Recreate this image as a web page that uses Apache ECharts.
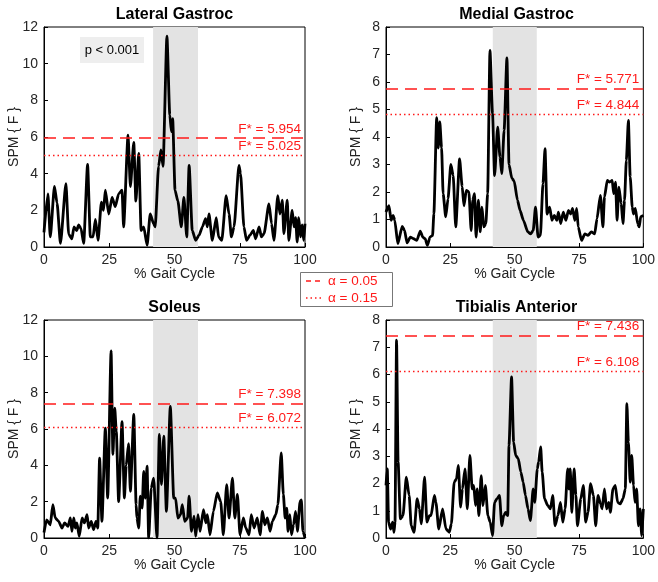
<!DOCTYPE html>
<html>
<head>
<meta charset="utf-8">
<script src="https://cdn.jsdelivr.net/npm/echarts@6/dist/echarts.min.js"></script>
<style>html,body{margin:0;padding:0;background:#fff;}#c{width:658px;height:582px;}</style>
</head>
<body>
<div id="c"></div>
<script>
// ---------- data ----------
const titles = ['Lateral Gastroc', 'Medial Gastroc', 'Soleus', 'Tibialis Anterior'];
const xTicks = [0, 25, 50, 75, 100];
const yMaxes = [12, 8, 12, 8];
const yIntervals = [2, 1, 2, 1];
const alphaLabels = ['α = 0.05', 'α = 0.15'];
const fCrit05 = [5.954, 5.771, 7.398, 7.436];
const fCrit15 = [5.025, 4.844, 6.072, 6.108];
const shadeStart = [41.8, 41.5, 41.8, 41.5];
const shadeEnd = [59.0, 58.6, 59.0, 58.6];
const pText = 'p < 0.001';

const lgX = [0,1.5,2.4,4.0,5.0,6.3,8.4,9.45,10.7,11.5,12.5,13.3,14.2,15.2,16.7,17.75,18.8,19.7,20.7,22.0,22.8,23.5,24.8,26.1,27.3,28.6,29.9,30.5,32.2,33.1,34.4,35.2,36.3,37.2,38.2,39.5,40.7,42.0,42.6,43.9,44.8,45.6,47.1,48.2,48.8,49.3,50.2,51.3,52.6,53.6,54.7,55.6,56.8,58.1,59.4,60.7,61.9,62.6,63.2,64.5,66.0,66.9,68.1,69.8,70.9,71.8,72.8,74.7,75.3,76.6,77.6,78.9,80.2,81.1,82.4,83.3,84.3,86.2,87.2,88.1,89.6,90.4,91.3,91.9,93.2,93.8,95.1,95.8,96.4,97.0,97.6,98.3,98.9,99.5,100];
const lgY = [0.8,2.9,0.55,3.3,2.4,0.2,3.45,0.7,0.45,1.1,0.9,1.2,1.0,0.2,4.5,0.55,0.55,1.5,0.36,2.45,2.0,3.1,1.8,2.7,2.2,2.9,3.1,1.1,6.1,3.3,5.7,2.5,5.1,0.9,1.1,0.1,1.8,1.27,1.1,4.4,5.3,4.4,11.5,7.2,6.3,7.0,3.1,2.5,1.1,2.7,0.55,4.45,0.9,0.36,0.64,1.1,1.55,1.1,1.8,0.36,1.6,0.55,0.36,2.8,1.8,0.55,1.1,4.45,4.0,1.1,0.36,0.64,0.9,0.45,1.1,0.55,0.73,2.35,1.27,0.36,2.8,1.8,2.55,0.73,2.55,0.36,2.0,1.1,1.6,0.27,1.6,0.55,1.2,0.36,1.27];

const mgX = [0,1.15,2.0,2.8,3.4,4.6,6.3,7.2,8.2,9.45,10.7,12.0,13.3,14.3,15.2,16.1,17.1,18.1,18.6,19.7,20.3,20.9,21.6,22.2,23.2,24.1,25.2,26.1,27.1,28.6,29.6,30.3,31.2,32.2,33.1,33.7,34.4,35.0,35.9,36.6,37.3,38.0,38.8,39.5,40.4,41.4,42.2,43.4,44.3,45.0,45.9,47.0,47.8,48.9,49.8,51.1,52.1,53.4,55.1,56.2,57.2,58.1,59.1,60.0,61.0,61.8,62.6,63.6,64.5,65.4,66.4,67.0,67.9,68.9,69.9,70.9,71.8,72.5,73.4,74.1,74.7,76.0,77.3,78.5,79.8,81.1,82.0,83.3,84.3,84.9,86.0,86.9,87.9,88.5,89.2,89.8,90.5,91.4,92.1,92.7,93.4,94.2,94.9,95.7,96.2,96.9,97.8,98.4,99.0,100];
const mgY = [1.27,1.5,0.97,1.15,0.97,0.12,0.75,0.6,0.15,0.36,0.3,0.24,0.58,0.36,0.3,0.06,0.36,0.42,1.2,4.7,3.6,4.55,3.6,1.94,1.1,1.75,3.0,2.6,0.73,3.2,2.2,1.5,2.06,2.0,0.6,1.7,1.94,0.36,1.7,0.55,1.45,0.73,0.85,1.94,7.15,4.85,2.6,4.36,3.27,2.67,4.24,6.88,3.0,2.5,2.4,1.7,1.33,0.97,0.55,0.48,0.6,1.45,0.36,0.42,2.3,3.58,1.2,1.45,0.97,1.15,0.97,1.27,0.85,1.27,0.97,1.33,1.2,1.4,0.97,1.4,0.73,0.24,0.48,0.42,0.55,0.48,1.03,1.88,0.73,1.82,2.42,2.36,2.42,1.94,2.36,0.97,2.18,1.58,0.85,1.7,3.15,4.6,2.55,1.45,1.2,1.4,0.85,0.73,1.1,1.15];

const soX = [0,1.0,2.4,3.4,4.3,5.6,6.9,7.9,9.2,10.1,10.7,11.4,12.0,12.6,13.5,14.6,15.5,16.5,17.1,18.1,19.0,19.9,20.6,21.3,22.2,23.5,24.4,25.7,26.4,27.1,27.7,28.6,29.9,30.8,31.5,32.4,33.1,34.4,35.3,35.6,36.3,36.9,37.6,38.2,38.8,39.5,40.1,41.1,42.0,43.3,44.2,45.0,45.9,46.9,48.4,49.7,50.4,51.3,52.3,53.0,53.9,55.0,55.6,56.5,57.5,58.1,59.0,59.8,61.1,62.0,62.6,63.6,64.9,66.4,67.7,68.7,70.0,70.9,72.2,73.1,74.1,75.1,76.4,77.3,78.6,79.4,80.5,81.7,82.8,83.7,84.6,85.6,86.6,87.5,88.8,89.6,90.9,91.7,92.4,93.0,93.5,94.2,94.8,95.6,96.4,97.1,98.1,98.6,99.2,100];
const soY = [0.3,1.0,0.73,1.83,1.1,0.92,0.55,0.83,0.64,1.1,0.37,1.1,0.55,0.83,0.09,1.1,0.83,1.28,0.55,0.92,0.46,0.92,0.55,4.4,0.92,6.05,2.2,10.3,4.6,7.15,5.87,2.0,6.4,2.2,4.0,5.2,2.57,6.8,1.83,1.1,0.55,2.3,1.65,3.67,2.2,3.95,0.0,2.75,3.3,0.0,5.7,2.94,5.6,1.47,7.25,2.2,2.2,1.1,1.28,1.83,0.92,1.1,2.3,0.37,1.2,0.09,1.28,0.37,1.56,0.83,1.28,0.18,1.47,2.48,2.0,0.18,2.94,1.1,3.3,1.1,2.4,0.18,1.1,0.55,0.18,1.28,0.55,1.1,0.18,1.47,0.73,1.1,0.37,0.92,1.28,1.83,4.68,2.4,1.1,1.65,0.37,1.28,0.18,0.73,1.47,0.37,2.0,2.1,0.37,0.0];

const taX = [0,0.5,1.0,1.8,2.6,3.1,3.5,4.1,4.7,5.6,6.6,7.9,9.0,9.8,10.9,12.1,13.0,13.7,15.0,15.9,16.9,17.5,18.8,19.4,20.5,22.0,23.3,24.6,25.4,26.5,27.4,28.1,29.0,29.7,30.7,31.6,32.6,33.5,34.1,34.8,35.4,36.1,37.0,37.7,38.6,39.6,40.5,41.4,42.2,43.1,44.1,45.0,45.7,46.5,47.3,47.8,48.8,49.6,50.4,51.4,52.4,53.3,54.2,55.2,56.1,57.2,57.8,58.8,59.3,60.1,60.7,61.6,62.9,63.9,64.8,65.7,66.8,67.8,68.7,69.6,70.6,71.1,71.6,72.2,73.1,73.8,74.4,75.7,76.7,77.6,78.5,79.5,80.6,81.5,82.4,83.4,84.0,84.9,85.7,86.6,87.2,88.2,89.1,90.0,91.0,92.1,93.0,93.6,94.2,94.9,95.5,96.2,96.8,97.4,98.1,98.7,99.4,100];
const taY = [1.93,2.54,0.58,0.33,0.58,0.21,0.58,7.26,2.79,0.7,0.82,2.23,1.56,0.45,0.21,1.44,1.07,0.52,2.23,0.58,0.82,0.82,1.56,1.31,0.33,1.07,0.33,0.21,0.52,2.05,2.17,2.66,1.13,1.8,2.54,1.07,3.03,1.8,1.93,1.19,1.8,0.82,2.29,1.19,1.93,0.82,0.58,0.09,1.31,1.44,1.56,0.45,0.82,0.94,0.82,3.4,5.91,3.52,3.03,2.91,2.42,2.05,1.56,1.07,0.64,1.8,1.31,2.54,2.79,3.34,2.42,1.44,1.19,1.07,1.56,0.45,0.82,1.31,0.58,1.07,2.54,1.8,2.54,0.94,2.54,1.56,0.45,1.44,1.93,0.58,0.94,1.99,1.56,0.45,1.56,1.25,1.07,1.8,1.07,1.31,0.94,1.8,1.93,1.31,1.25,1.44,1.8,4.93,3.52,2.05,3.03,1.93,1.31,1.8,0.45,1.07,0.09,1.07];

// ---------- layout ----------
const grids = [
  {left: 44, top: 27, width: 261, height: 220},
  {left: 386, top: 27, width: 261, height: 220},
  {left: 44, top: 320, width: 261, height: 218},
  {left: 386, top: 320, width: 261, height: 218}
];
const seriesX = [lgX, mgX, soX, taX];
const seriesY = [lgY, mgY, soY, taY];
const FONT = '"Liberation Sans", Arial, Helvetica, sans-serif';
const RED = '#ff1a1a';

const option = {
  animation: false,
  textStyle: {fontFamily: FONT},
  grid: grids.map(g => Object.assign({show: true, borderColor: '#000', borderWidth: 1, backgroundColor: 'transparent'}, g)),
  xAxis: grids.map((g, i) => ({
    type: 'value', gridIndex: i, min: xTicks[0], max: xTicks[xTicks.length - 1], interval: 25,
    name: '% Gait Cycle', nameLocation: 'middle', nameGap: 20, nameMoveOverlap: false,
    nameTextStyle: {fontSize: 14, color: '#222', fontFamily: FONT},
    axisLine: {show: true, lineStyle: {color: '#000', width: 1}},
    axisTick: {show: true, inside: true, length: 4, lineStyle: {color: '#000'}},
    axisLabel: {fontSize: 14, color: '#262626', margin: 6, fontFamily: FONT},
    splitLine: {show: false}
  })),
  yAxis: grids.map((g, i) => ({
    type: 'value', gridIndex: i, min: 0, max: yMaxes[i], interval: yIntervals[i],
    name: 'SPM { F }', nameLocation: 'middle', nameGap: 23, nameMoveOverlap: false,
    nameTextStyle: {fontSize: 14, color: '#222', fontFamily: FONT},
    axisLine: {show: true, lineStyle: {color: '#000', width: 1}},
    axisTick: {show: true, inside: true, length: 4, lineStyle: {color: '#000'}},
    axisLabel: {fontSize: 14, color: '#262626', margin: 6, fontFamily: FONT},
    splitLine: {show: false}
  })),
  series: grids.map((g, i) => ({
    type: 'line', xAxisIndex: i, yAxisIndex: i,
    data: seriesX[i].map((x, k) => [x, seriesY[i][k]]),
    showSymbol: false, symbol: 'none',
    smooth: 0.2, smoothMonotone: 'x',
    lineStyle: {color: '#000', width: 2.8, join: 'round'},
    markArea: {silent: true, itemStyle: {color: '#e3e3e3'},
      data: [[{xAxis: shadeStart[i]}, {xAxis: shadeEnd[i]}]]},
    markLine: {silent: true, symbol: 'none', animation: false,
      data: [
        {yAxis: fCrit05[i], lineStyle: {color: RED, width: 1.6, type: [12, 7]},
         label: {show: true, position: 'insideEndTop', distance: [4, 2], formatter: 'F* = ' + fCrit05[i].toFixed(3), color: RED, fontSize: 13.5, fontFamily: FONT}},
        {yAxis: fCrit15[i], lineStyle: {color: RED, width: 1.3, type: [1.5, 3]},
         label: {show: true, position: 'insideEndTop', distance: [4, 2], formatter: 'F* = ' + fCrit15[i].toFixed(3), color: RED, fontSize: 13.5, fontFamily: FONT}}
      ]}
  })),
  graphic: [
    ...grids.map((g, i) => ({
      type: 'text', x: g.left + g.width / 2, y: g.top - 12,
      style: {text: titles[i], font: 'bold 16px ' + FONT, fill: '#000', textAlign: 'center', textVerticalAlign: 'middle'}
    })),
    {type: 'rect', shape: {x: 80, y: 37, width: 64, height: 26}, style: {fill: '#eeeeee'}, z: 10},
    {type: 'text', x: 112, y: 50, z: 11, style: {text: pText, font: '13px ' + FONT, fill: '#000', textAlign: 'center', textVerticalAlign: 'middle'}},
    {type: 'rect', shape: {x: 300.5, y: 272.5, width: 92, height: 34}, style: {fill: '#fff', stroke: '#777', lineWidth: 1}, z: 10},
    {type: 'line', shape: {x1: 306, y1: 281, x2: 322, y2: 281}, style: {stroke: RED, lineWidth: 1.4, lineDash: [5, 4]}, z: 11},
    {type: 'line', shape: {x1: 306, y1: 298, x2: 322, y2: 298}, style: {stroke: RED, lineWidth: 1.4, lineDash: [1.5, 3]}, z: 11},
    {type: 'text', x: 328, y: 281, z: 11, style: {text: alphaLabels[0], font: '13.5px ' + FONT, fill: RED, textAlign: 'left', textVerticalAlign: 'middle'}},
    {type: 'text', x: 328, y: 298, z: 11, style: {text: alphaLabels[1], font: '13.5px ' + FONT, fill: RED, textAlign: 'left', textVerticalAlign: 'middle'}}
  ]
};
const chart = echarts.init(document.getElementById('c'), null, {renderer: 'canvas'});
chart.setOption(option);
</script>
</body>
</html>
